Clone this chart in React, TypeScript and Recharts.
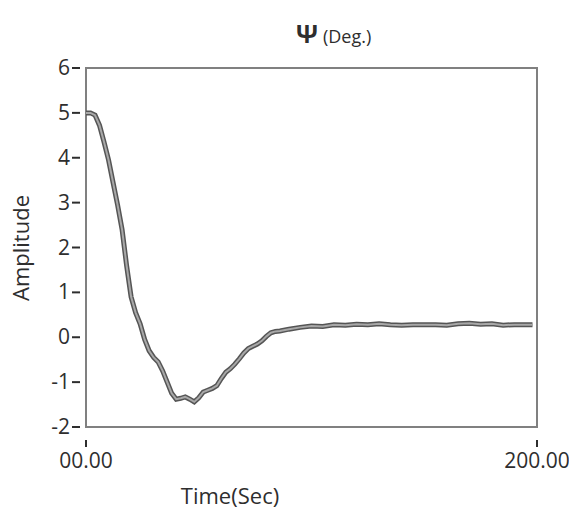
import { LineChart, Line, XAxis, YAxis, ReferenceArea } from 'recharts'

const times = [0, 2, 4, 6, 8, 10, 12, 14, 16, 18, 20, 22, 24, 26, 28, 30, 32, 34, 36, 38, 40, 42, 44, 46, 48, 50, 52, 54, 56, 58, 60, 62, 64, 66, 68, 70, 72, 74, 76, 78, 80, 82, 84, 86, 90, 95, 100, 105, 110, 115, 120, 125, 130, 135, 140, 145, 150, 155, 160, 165, 170, 175, 180, 185, 190, 195, 198]
const psi = [5.0, 5.0, 4.95, 4.72, 4.35, 3.95, 3.45, 2.95, 2.4, 1.6, 0.9, 0.55, 0.3, -0.05, -0.3, -0.45, -0.55, -0.75, -1.0, -1.25, -1.38, -1.36, -1.33, -1.38, -1.44, -1.35, -1.22, -1.18, -1.14, -1.08, -0.92, -0.78, -0.7, -0.6, -0.48, -0.35, -0.25, -0.2, -0.15, -0.08, 0.02, 0.1, 0.13, 0.14, 0.18, 0.22, 0.25, 0.24, 0.28, 0.27, 0.29, 0.28, 0.3, 0.28, 0.27, 0.28, 0.28, 0.28, 0.27, 0.3, 0.31, 0.29, 0.3, 0.27, 0.28, 0.28, 0.28]

const yTicks = [-2, -1, 0, 1, 2, 3, 4, 5, 6]
const xTicks = [0, 200]
const xTickLabels = ['00.00', '200.00']

const data = times.map((t, i) => ({ t, v: psi[i] }))

const font = '"Open Sans", "DejaVu Sans", sans-serif'
const ink = '#2e2e2e'
const frame = '#808080'

const YTick = (p: any) => (
  <g>
    <line x1={p.x - 12} x2={p.x - 4} y1={p.y} y2={p.y} stroke={ink} strokeWidth={2} />
    <text x={p.x - 14} y={p.y} dy={7} textAnchor="end" fontSize={21} fill={ink} fontFamily={font}>
      {p.payload.value}
    </text>
  </g>
)

const XTick = (p: any) => (
  <g>
    <line x1={p.x} x2={p.x} y1={p.y + 5} y2={p.y + 12} stroke={ink} strokeWidth={2} />
    <text x={p.x} y={p.y + 33} textAnchor="middle" fontSize={21} fill={ink} fontFamily={font}>
      {xTickLabels[p.index]}
    </text>
  </g>
)

export default function App() {
  return (
    <div style={{ position: 'absolute', left: 0, top: 0, width: 569, height: 509, background: '#fff', fontFamily: font }}>
      <div style={{ position: 'absolute', left: 296, top: 16, color: ink, whiteSpace: 'nowrap' }}>
        <span style={{ fontSize: 25, fontWeight: 700 }}>Ψ</span>
        <span style={{ fontSize: 18, marginLeft: 5 }}>(Deg.)</span>
      </div>
      <div style={{ position: 'absolute', left: 230, top: 495, color: ink, fontSize: 22, lineHeight: 1, transform: 'translate(-50%, -50%)', whiteSpace: 'nowrap' }}>
        Time(Sec)
      </div>
      <div
        style={{
          position: 'absolute', left: 20, top: 248, color: ink, fontSize: 22, lineHeight: 1,
          transform: 'translate(-50%, -50%) rotate(-90deg)', whiteSpace: 'nowrap',
        }}
      >
        Amplitude
      </div>
      <LineChart width={569} height={509} data={data} margin={{ top: 68, right: 32, bottom: 42, left: 26 }}>
        <XAxis
          dataKey="t"
          type="number"
          domain={[0, 200]}
          ticks={xTicks}
          tick={<XTick />}
          tickLine={false}
          axisLine={false}
          height={40}
        />
        <YAxis
          type="number"
          domain={[-2, 6]}
          ticks={yTicks}
          tick={<YTick />}
          tickLine={false}
          tickSize={0}
          axisLine={false}
          width={60}
        />
        <ReferenceArea x1={0} x2={200} y1={-2} y2={6} fill="none" stroke={frame} strokeWidth={2} ifOverflow="visible" />
        <Line type="linear" dataKey="v" stroke="#555" strokeWidth={5} dot={false} isAnimationActive={false} />
        <Line type="linear" dataKey="v" stroke="#a8a8a8" strokeWidth={2} dot={false} isAnimationActive={false} />
      </LineChart>
    </div>
  )
}
